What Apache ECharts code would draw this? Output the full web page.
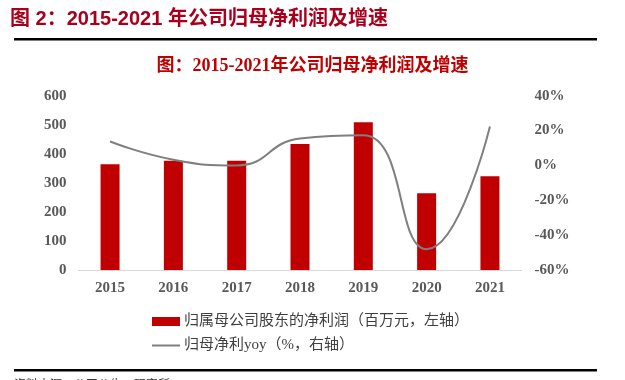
<!DOCTYPE html>
<html><head><meta charset="utf-8">
<script src="https://cdn.jsdelivr.net/npm/echarts@6/dist/echarts.min.js"></script>
<style>html,body{margin:0;padding:0;background:#fff}#c{width:625px;height:380px}</style>
</head><body><div id="c"></div>
<script>
const categories = ['2015','2016','2017','2018','2019','2020','2021'];
const netProfit = [364, 376, 376, 434, 509, 264, 323];
const yoy = [13.7, 3.3, 0.0, 15.4, 17.3, -48.1, 22.3];
const leftTicks = [0, 600, 100];
const rightTicks = [-60, 40, 20];
const headerTitle = '图 2：2015-2021 年公司归母净利润及增速';
const innerTitle = '图：2015-2021年公司归母净利润及增速';
const barName = '归属母公司股东的净利润（百万元，左轴）';
const lineName = '归母净利yoy（%，右轴）';
const sourceText = '资料来源：公司公告，研究所';

const serif = '"Liberation Serif","Times New Roman","Noto Sans CJK SC",serif';
const chart = echarts.init(document.getElementById('c'));
chart.setOption({
  animation: false,
  backgroundColor: '#fff',
  graphic: [
    {type:'text', left: 10, top: 9, style:{text: headerTitle, fill:'#a8001c', font:'bold 20px "Liberation Sans","Noto Sans CJK SC",sans-serif'}},
    {type:'rect', shape:{x:14, y:38, width:583, height:2.5}, style:{fill:'#000'}},
    {type:'text', left: 'center', top: 57, style:{text: innerTitle, fill:'#c00000', font:'bold 18px ' + serif}},
    {type:'rect', shape:{x:14, y:369, width:583, height:2.5}, style:{fill:'#000'}},
    {type:'text', left: 14, top: 378, style:{text: sourceText, fill:'#333', font:'12px "Noto Sans CJK SC",sans-serif'}}
  ],
  grid: {left: 78.4, right: 103.4, top: 95.7, bottom: 110},
  legend: {
    orient: 'vertical', left: 147, top: 309, itemWidth: 28, itemHeight: 9, itemGap: 9,
    textStyle: {color:'#404040', fontSize: 15, fontFamily: serif, padding:[0,0,0,-1]},
    data: [
      {name: barName, icon: 'rect', itemStyle:{color:'#c00000'}},
      {name: lineName, icon: 'path://M0,0M28,9M0,3.5H28V5.5H0Z', itemStyle:{color:'#7f7f7f', borderWidth:0}, lineStyle:{width:0}}
    ]
  },
  xAxis: {
    type: 'category', data: categories,
    axisLine: {lineStyle:{color:'#d9d9d9', width:1}},
    axisTick: {show:false},
    axisLabel: {color:'#595959', fontSize: 15, fontWeight:'bold', fontFamily: serif, margin: 11}
  },
  yAxis: [
    {type:'value', min: leftTicks[0], max: leftTicks[1], interval: leftTicks[2],
     splitLine:{show:false}, axisLine:{show:false}, axisTick:{show:false},
     axisLabel:{color:'#595959', fontSize:15, fontWeight:'bold', fontFamily: serif, margin: 12}},
    {type:'value', min: rightTicks[0], max: rightTicks[1], interval: rightTicks[2],
     splitLine:{show:false}, axisLine:{show:false}, axisTick:{show:false},
     axisLabel:{color:'#595959', fontSize:15, fontWeight:'bold', fontFamily: serif, margin: 13, formatter:'{value}%'}}
  ],
  series: [
    {name: barName, type:'bar', data: netProfit, barWidth: 19, yAxisIndex: 0,
     itemStyle:{color:'#c00000'}},
    {name: lineName, type:'line', data: yoy, yAxisIndex: 1, smooth: 0.5,
     symbol:'none', lineStyle:{color:'#7f7f7f', width:2}, itemStyle:{color:'#7f7f7f'}}
  ]
});
</script></body></html>
